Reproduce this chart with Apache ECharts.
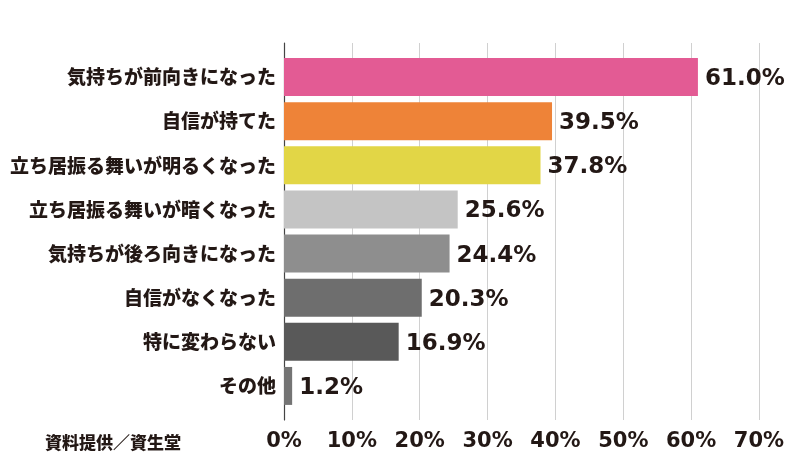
<!DOCTYPE html>
<html><head><meta charset="utf-8">
<script src="https://cdn.jsdelivr.net/npm/echarts@6/dist/echarts.min.js"></script>
<style>html,body{margin:0;padding:0;background:#fff}#c{width:800px;height:470px}</style>
</head><body><div id="c"></div>
<script>
const categories = ['気持ちが前向きになった','自信が持てた','立ち居振る舞いが明るくなった','立ち居振る舞いが暗くなった','気持ちが後ろ向きになった','自信がなくなった','特に変わらない','その他'];
const values = [61.0, 39.5, 37.8, 25.6, 24.4, 20.3, 16.9, 1.2];
const barColors = ['#E35B94','#EE8338','#E2D646','#C4C4C4','#8E8E8E','#6E6E6E','#595959','#747474'];
const xTicks = [0,10,20,30,40,50,60,70];
const sourceText = '資料提供／資生堂';

const txt = '#231815';
const chart = echarts.init(document.getElementById('c'));
chart.setOption({
  animation:false,
  title:{text:sourceText,left:40,top:429,textStyle:{fontFamily:'Noto Sans CJK JP',fontWeight:900,fontSize:17,color:txt}},
  grid:[
    {left:284,right:41,top:43,bottom:50},
    {left:284,right:41,top:55,bottom:62}
  ],
  xAxis:[
    {gridIndex:0,type:'value',min:xTicks[0],max:xTicks[xTicks.length-1],interval:10,
     axisLine:{show:false},axisTick:{show:false},
     splitLine:{show:true,lineStyle:{color:'#D0D0D0',width:1}},
     axisLabel:{formatter:'{value}%',margin:11,fontFamily:'DejaVu Sans',fontWeight:'bold',fontSize:21,color:txt}},
    {gridIndex:1,type:'value',min:xTicks[0],max:xTicks[xTicks.length-1],show:false}
  ],
  yAxis:[
    {gridIndex:0,type:'value',min:0,max:1,axisLine:{show:true,lineStyle:{color:'#444',width:1.2}},axisTick:{show:false},axisLabel:{show:false},splitLine:{show:false}},
    {gridIndex:1,type:'category',inverse:true,data:categories,
     axisLine:{show:false},axisTick:{show:false},
     axisLabel:{margin:8,fontFamily:'Noto Sans CJK JP',fontWeight:900,fontSize:19,color:txt}}
  ],
  series:[{
    type:'bar',xAxisIndex:1,yAxisIndex:1,barCategoryGap:'14%',
    data:values.map((v,i)=>({value:v,itemStyle:{color:barColors[i]}})),
    label:{show:true,position:'right',distance:7,offset:[0,2],formatter:p=>p.value.toFixed(1)+'%',
      fontFamily:'DejaVu Sans',fontWeight:'bold',fontSize:23,color:txt}
  }]
});
</script></body></html>
